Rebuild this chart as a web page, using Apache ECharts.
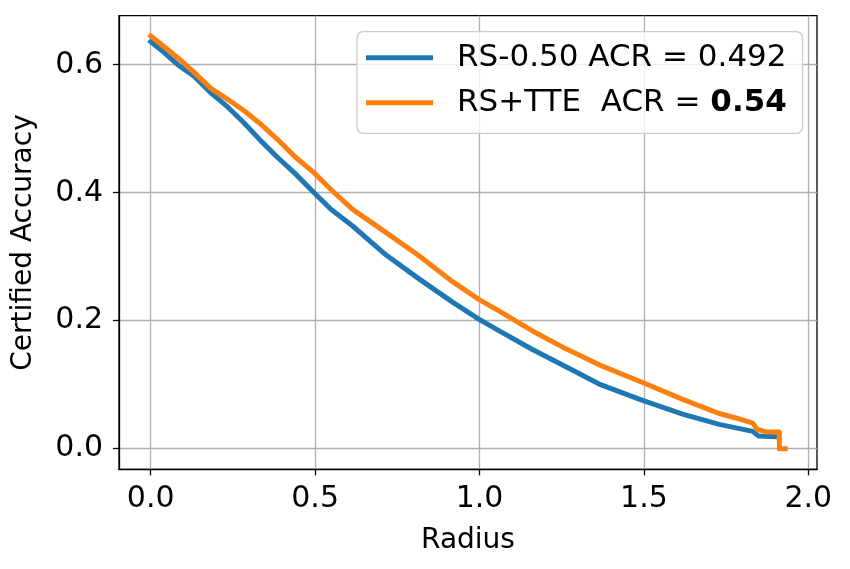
<!DOCTYPE html>
<html>
<head>
<meta charset="utf-8">
<script src="https://cdn.jsdelivr.net/npm/echarts@6/dist/echarts.min.js"></script>
<style>
  html, body { margin: 0; padding: 0; background: #fff; }
  #chart { width: 850px; height: 569px; }
</style>
</head>
<body>
<div id="chart"></div>
<script>
// values
const xTicks = [0.0, 0.5, 1.0, 1.5, 2.0];
const yTicks = [0.0, 0.2, 0.4, 0.6];

const rsRadius = [0.000, 0.041, 0.082, 0.132, 0.183, 0.234, 0.284, 0.335, 0.386, 0.437, 0.497, 0.548, 0.614, 0.715, 0.817, 0.918, 0.999, 1.060, 1.161, 1.263, 1.364, 1.498, 1.618, 1.729, 1.831, 1.848, 1.897];
const rsAcc    = [0.636, 0.619, 0.600, 0.582, 0.556, 0.534, 0.509, 0.481, 0.455, 0.431, 0.400, 0.374, 0.348, 0.303, 0.265, 0.229, 0.202, 0.184, 0.155, 0.128, 0.101, 0.075, 0.054, 0.038, 0.027, 0.020, 0.019];

const tteRadius = [0.000, 0.041, 0.082, 0.132, 0.183, 0.234, 0.284, 0.335, 0.386, 0.437, 0.497, 0.548, 0.614, 0.715, 0.817, 0.918, 0.999, 1.060, 1.161, 1.263, 1.364, 1.498, 1.618, 1.729, 1.780, 1.831, 1.845, 1.875, 1.912, 1.912, 1.930];
const tteAcc    = [0.645, 0.628, 0.611, 0.588, 0.563, 0.546, 0.528, 0.507, 0.483, 0.457, 0.431, 0.405, 0.374, 0.338, 0.301, 0.261, 0.233, 0.215, 0.184, 0.156, 0.131, 0.103, 0.077, 0.055, 0.048, 0.040, 0.030, 0.026, 0.026, 0.000, 0.000];

const names = ['RS-0.50 ACR = 0.492', 'RS+TTE  ACR = 0.54'];

const font = 'DejaVu Sans';
const chart = echarts.init(document.getElementById('chart'), null, { renderer: 'canvas' });

const pairs = (xs, ys) => xs.map((x, i) => [x, ys[i]]);

const axisCommon = (ticks) => ({
  type: 'value',
  nameLocation: 'middle',
  nameTextStyle: { fontFamily: font, fontSize: 28, color: '#000' },
  axisLine: { show: true, onZero: false, lineStyle: { color: '#000', width: 1.3 } },
  axisTick: { show: true, customValues: ticks, length: 6, inside: false, lineStyle: { color: '#000', width: 1.3 } },
  splitLine: { show: true, lineStyle: { color: '#b0b0b0', width: 1.3 } }
});

const option = {
  backgroundColor: '#ffffff',
  animation: false,
  grid: {
    left: 119, right: 33, top: 15.7, bottom: 99.7,
    show: true, borderColor: '#000', borderWidth: 1.3,
    containLabel: false, outerBoundsMode: 'none'
  },
  legend: {
    orient: 'vertical',
    left: 357, top: 31.7,
    padding: [9, 15.7, 13.6, 9],
    itemGap: 11,
    itemWidth: 67, itemHeight: 5,
    icon: 'rect',
    backgroundColor: 'rgba(255,255,255,0.8)',
    borderColor: '#cccccc', borderWidth: 1.3, borderRadius: 6,
    data: names,
    formatter: n => n === names[1] ? 'RS+TTE  ACR = {b|0.54}' : n,
    textStyle: {
      fontFamily: font, fontSize: 31, color: '#000', lineHeight: 34,
      padding: [0, 0, 0, 19],
      rich: { b: { fontFamily: font, fontSize: 31, fontWeight: 'bold', color: '#000', lineHeight: 34 } }
    }
  },
  xAxis: Object.assign(axisCommon(xTicks), {
    min: -0.0965, max: 2.0265,
    name: 'Radius', nameGap: 57,
    axisLabel: { customValues: xTicks, margin: 15, fontFamily: font, fontSize: 30, color: '#000', formatter: v => v.toFixed(1) }
  }),
  yAxis: Object.assign(axisCommon(yTicks), {
    min: -0.0322, max: 0.6766,
    name: 'Certified Accuracy', nameGap: 81,
    axisLabel: { customValues: yTicks, margin: 16, fontFamily: font, fontSize: 30, color: '#000', formatter: v => v.toFixed(1) }
  }),
  series: [
    {
      name: names[0], type: 'line', data: pairs(rsRadius, rsAcc),
      showSymbol: false, symbol: 'none', color: '#1f77b4',
      lineStyle: { color: '#1f77b4', width: 5, join: 'round', cap: 'square' }
    },
    {
      name: names[1], type: 'line', data: pairs(tteRadius, tteAcc),
      showSymbol: false, symbol: 'none', color: '#ff7f0e',
      lineStyle: { color: '#ff7f0e', width: 5, join: 'round', cap: 'square' }
    }
  ]
};

chart.setOption(option);
</script>
</body>
</html>
